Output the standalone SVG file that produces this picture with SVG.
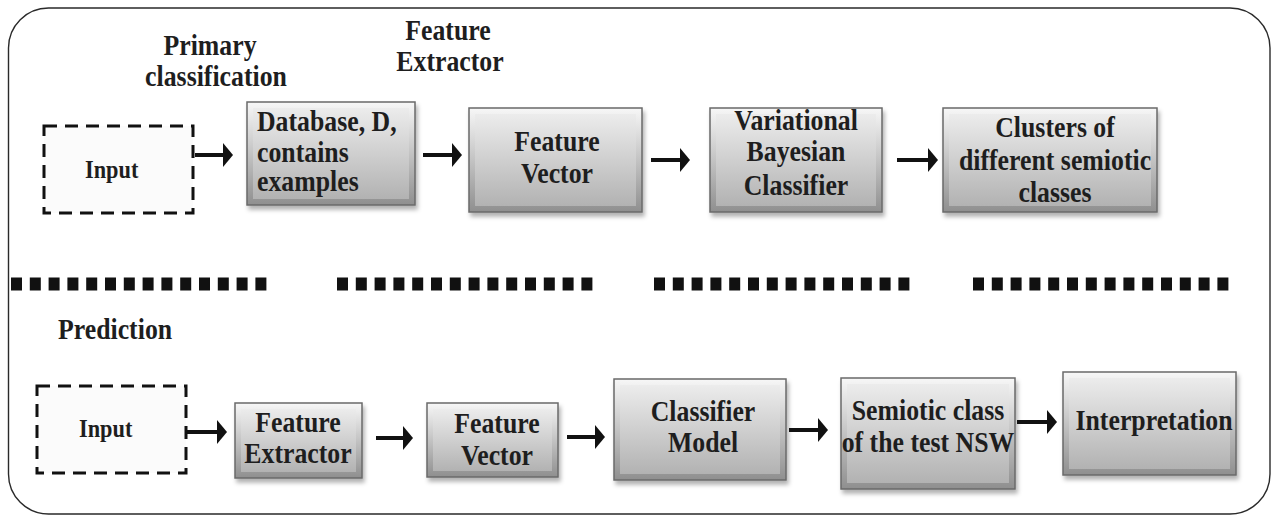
<svg xmlns="http://www.w3.org/2000/svg" width="1273" height="516" viewBox="0 0 1273 516">
  <style>
    .lbl { font-family: "Liberation Serif", "Times New Roman", serif; font-weight: bold; font-size: 30px; fill: #1e1e1e;
           transform-box: fill-box; transform-origin: center; transform: scaleX(0.86); }
    .mid { text-anchor: middle; }
    .start { transform-origin: left center; }
    .frame { fill: #ffffff; stroke: #2a2a2a; stroke-width: 1.4; }
    .dash { fill: #fbfbfb; stroke: #111; stroke-width: 3; stroke-dasharray: 13 8; }
    .outer { fill: url(#gOuter); stroke: #6a6a6a; stroke-width: 1.5; filter: url(#shadow); }
    .inner { fill: url(#gInner); }
    .shaft { stroke: #111; stroke-width: 4; fill: none; marker-end: url(#head); }
    .sep { stroke: #111; stroke-width: 13; stroke-dasharray: 11 7.8; }
  </style>
  <defs>
    <linearGradient id="gOuter" x1="0" y1="0" x2="0" y2="1">
      <stop offset="0" stop-color="#f7f7f7"/>
      <stop offset="1" stop-color="#8f8f8f"/>
    </linearGradient>
    <linearGradient id="gInner" x1="0" y1="0" x2="0" y2="1">
      <stop offset="0" stop-color="#ececec"/>
      <stop offset="1" stop-color="#b2b2b2"/>
    </linearGradient>
    <filter id="shadow" x="-10%" y="-10%" width="130%" height="130%">
      <feDropShadow dx="2" dy="4" stdDeviation="2" flood-color="#000" flood-opacity="0.3"/>
    </filter>
    <marker id="head" viewBox="0 0 10 24" refX="4" refY="12" markerWidth="10" markerHeight="24" markerUnits="userSpaceOnUse" orient="auto">
      <path d="M0,0 L10,12 L0,24 Z" fill="#111"/>
    </marker>
  </defs>

  <!-- outer frame -->
  <rect class="frame" x="8.5" y="8" width="1261.5" height="506" rx="40" ry="40"/>

  <!-- section headings -->
  <g id="primary-label">
    <text class="lbl mid" x="210" y="55">Primary</text>
    <text class="lbl mid" x="216" y="86">classification</text>
  </g>
  <g id="extractor-label">
    <text class="lbl mid" x="448" y="40">Feature</text>
    <text class="lbl mid" x="450" y="71">Extractor</text>
  </g>
  <g id="prediction-label">
    <text class="lbl start" x="58" y="339">Prediction</text>
  </g>

  <!-- separator between the two stages -->
  <g id="separator">
    <line class="sep" x1="11" y1="284" x2="268" y2="284"/>
    <line class="sep" x1="337" y1="284" x2="594" y2="284"/>
    <line class="sep" x1="654" y1="284" x2="911" y2="284"/>
    <line class="sep" x1="973" y1="284" x2="1230" y2="284"/>
  </g>

  <!-- top row: primary classification -->
  <g id="input-top">
    <rect class="dash" x="44" y="126" width="149" height="87"/>
    <text class="lbl start" x="85" y="178" style="font-size:26px">Input</text>
  </g>
  <g id="database">
    <rect class="outer" x="247" y="102" width="168" height="103"/>
    <rect class="inner" x="253" y="108" width="156" height="91"/>
    <text class="lbl start" x="257" y="131">Database, D,</text>
    <text class="lbl start" x="257" y="162">contains</text>
    <text class="lbl start" x="257" y="191">examples</text>
  </g>
  <g id="feature-vector-top">
    <rect class="outer" x="469" y="108" width="173" height="104"/>
    <rect class="inner" x="475" y="114" width="161" height="92"/>
    <text class="lbl mid" x="557" y="151">Feature</text>
    <text class="lbl mid" x="557" y="183">Vector</text>
  </g>
  <g id="vb-classifier">
    <rect class="outer" x="710" y="108" width="172" height="104"/>
    <rect class="inner" x="716" y="114" width="160" height="92"/>
    <text class="lbl mid" x="796" y="130">Variational</text>
    <text class="lbl mid" x="796" y="161">Bayesian</text>
    <text class="lbl mid" x="796" y="195">Classifier</text>
  </g>
  <g id="clusters">
    <rect class="outer" x="943" y="108" width="214" height="104"/>
    <rect class="inner" x="949" y="114" width="202" height="92"/>
    <text class="lbl mid" x="1055" y="137">Clusters of</text>
    <text class="lbl mid" x="1055" y="170">different semiotic</text>
    <text class="lbl mid" x="1055" y="202">classes</text>
  </g>

  <!-- bottom row: prediction -->
  <g id="input-bottom">
    <rect class="dash" x="37" y="386" width="149" height="87"/>
    <text class="lbl start" x="79" y="437" style="font-size:26px">Input</text>
  </g>
  <g id="feature-extractor">
    <rect class="outer" x="235" y="403" width="127" height="75"/>
    <rect class="inner" x="241" y="409" width="115" height="63"/>
    <text class="lbl mid" x="298" y="432">Feature</text>
    <text class="lbl mid" x="298" y="463">Extractor</text>
  </g>
  <g id="feature-vector-bottom">
    <rect class="outer" x="427" y="403" width="131" height="74"/>
    <rect class="inner" x="433" y="409" width="119" height="62"/>
    <text class="lbl mid" x="497" y="433">Feature</text>
    <text class="lbl mid" x="497" y="465">Vector</text>
  </g>
  <g id="classifier-model">
    <rect class="outer" x="614" y="379" width="172" height="101"/>
    <rect class="inner" x="620" y="385" width="160" height="89"/>
    <text class="lbl mid" x="703" y="421">Classifier</text>
    <text class="lbl mid" x="703" y="452">Model</text>
  </g>
  <g id="semiotic-class">
    <rect class="outer" x="841" y="378" width="174" height="111"/>
    <rect class="inner" x="847" y="384" width="162" height="99"/>
    <text class="lbl mid" x="928" y="420">Semiotic class</text>
    <text class="lbl mid" x="928" y="452">of the test NSW</text>
  </g>
  <g id="interpretation">
    <rect class="outer" x="1063" y="372" width="173" height="103"/>
    <rect class="inner" x="1069" y="378" width="161" height="91"/>
    <text class="lbl mid" x="1154" y="430">Interpretation</text>
  </g>

  <!-- connectors -->
  <g id="connectors">
    <line class="shaft" x1="195" y1="155" x2="227" y2="155"/>
    <line class="shaft" x1="423" y1="155" x2="456" y2="155"/>
    <line class="shaft" x1="651" y1="160" x2="684" y2="160"/>
    <line class="shaft" x1="897" y1="160" x2="932" y2="160"/>
    <line class="shaft" x1="187" y1="432" x2="221" y2="432"/>
    <line class="shaft" x1="376" y1="438" x2="407" y2="438"/>
    <line class="shaft" x1="567" y1="437" x2="599" y2="437"/>
    <line class="shaft" x1="789" y1="430" x2="822" y2="430"/>
    <line class="shaft" x1="1017" y1="422" x2="1051" y2="422"/>
  </g>
</svg>
